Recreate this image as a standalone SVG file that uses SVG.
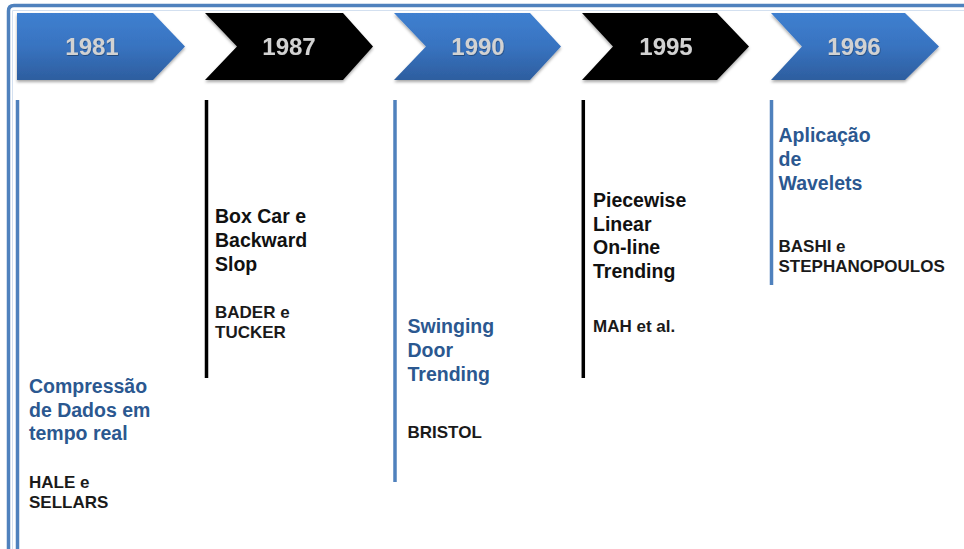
<svg xmlns="http://www.w3.org/2000/svg" width="964" height="549" viewBox="0 0 964 549">
  <defs>
    <linearGradient id="blueFill" x1="0" y1="0" x2="0" y2="1">
      <stop offset="0" stop-color="#3f80d0"/>
      <stop offset="0.5" stop-color="#3873c0"/>
      <stop offset="1" stop-color="#2d5e9f"/>
    </linearGradient>
    <filter id="dropShadow" x="-10%" y="-20%" width="120%" height="150%">
      <feDropShadow dx="0" dy="2" stdDeviation="1.5" flood-color="#000" flood-opacity="0.35"/>
    </filter>
    <filter id="textShadow" x="-10%" y="-20%" width="120%" height="150%">
      <feDropShadow dx="0.6" dy="0.8" stdDeviation="0.7" flood-color="#000" flood-opacity="0.4"/>
    </filter>
  </defs>
  <style>
    .chev-blue { fill: url(#blueFill); filter: url(#dropShadow); }
    .chev-black { fill: #000; filter: url(#dropShadow); }
    .year { font-family: "Liberation Sans", Arial, sans-serif; font-weight: bold; font-size: 24px; fill: #d2d2d2; text-anchor: middle; filter: url(#textShadow); }
    .stem-blue { stroke: #4f81bd; stroke-width: 3.5; }
    .stem-black { stroke: #000; stroke-width: 3.5; }
    .title { font-family: "Liberation Sans", Arial, sans-serif; font-weight: bold; font-size: 19.5px; }
    .title-blue { fill: #2b5890; }
    .title-black { fill: #111; }
    .author { font-family: "Liberation Sans", Arial, sans-serif; font-weight: bold; font-size: 17px; fill: #1a1a1a; }
  </style>

  <rect width="964" height="549" fill="#fff"/>

  <!-- outer frame -->
  <g id="frame" fill="none">
    <path d="M8.5,549 V11 Q8.5,5.5 14,5.5 H964" stroke="#4f81bd" stroke-width="3.5"/>
    <path d="M12.5,549 V10.5 H964" stroke="#d3e0f0" stroke-width="1"/>
  </g>

  <!-- stems hanging from each year -->
  <g id="connectors">
    <line class="stem-blue" x1="17.5" y1="100" x2="17.5" y2="549"/>
    <line class="stem-black" x1="206.5" y1="100" x2="206.5" y2="378"/>
    <line class="stem-blue" x1="395" y1="100" x2="395" y2="482"/>
    <line class="stem-black" x1="583.3" y1="100" x2="583.3" y2="378"/>
    <line class="stem-blue" x1="771.5" y1="100" x2="771.5" y2="285"/>
  </g>

  <g id="y1981">
    <polygon class="chev-blue" points="17,13 153,13 185,46.5 153,80 17,80"/>
    <text class="year" x="92" y="55">1981</text>
    <text class="title title-blue" x="29" y="393"><tspan x="29">Compressão</tspan><tspan x="29" dy="23.5">de Dados em</tspan><tspan x="29" dy="23.5">tempo real</tspan></text>
    <text class="author" x="29" y="488"><tspan x="29">HALE e</tspan><tspan x="29" dy="20">SELLARS</tspan></text>
  </g>

  <g id="y1987">
    <polygon class="chev-black" points="205,13 343,13 373,46.5 343,80 205,80 237,46.5"/>
    <text class="year" x="289" y="55">1987</text>
    <text class="title title-black" x="215" y="223"><tspan x="215">Box Car e</tspan><tspan x="215" dy="24">Backward</tspan><tspan x="215" dy="23.5">Slop</tspan></text>
    <text class="author" x="215" y="318"><tspan x="215">BADER e</tspan><tspan x="215" dy="20">TUCKER</tspan></text>
  </g>

  <g id="y1990">
    <polygon class="chev-blue" points="394,13 530,13 561,46.5 530,80 394,80 426,46.5"/>
    <text class="year" x="478" y="55">1990</text>
    <text class="title title-blue" x="407.5" y="333"><tspan x="407.5">Swinging</tspan><tspan x="407.5" dy="24">Door</tspan><tspan x="407.5" dy="23.5">Trending</tspan></text>
    <text class="author" x="407.5" y="438">BRISTOL</text>
  </g>

  <g id="y1995">
    <polygon class="chev-black" points="582,13 717,13 749,46.5 717,80 582,80 613,46.5"/>
    <text class="year" x="666" y="55">1995</text>
    <text class="title title-black" x="593" y="206.5"><tspan x="593">Piecewise</tspan><tspan x="593" dy="24">Linear</tspan><tspan x="593" dy="23.5">On-line</tspan><tspan x="593" dy="24">Trending</tspan></text>
    <text class="author" x="593" y="332">MAH et al.</text>
  </g>

  <g id="y1996">
    <polygon class="chev-blue" points="771,13 905,13 939,46.5 905,80 771,80 802,46.5"/>
    <text class="year" x="854" y="55">1996</text>
    <text class="title title-blue" x="778.5" y="142"><tspan x="778.5">Aplicação</tspan><tspan x="778.5" dy="24">de</tspan><tspan x="778.5" dy="24">Wavelets</tspan></text>
    <text class="author" x="778.5" y="251.5"><tspan x="778.5">BASHI e</tspan><tspan x="778.5" dy="20">STEPHANOPOULOS</tspan></text>
  </g>
</svg>
